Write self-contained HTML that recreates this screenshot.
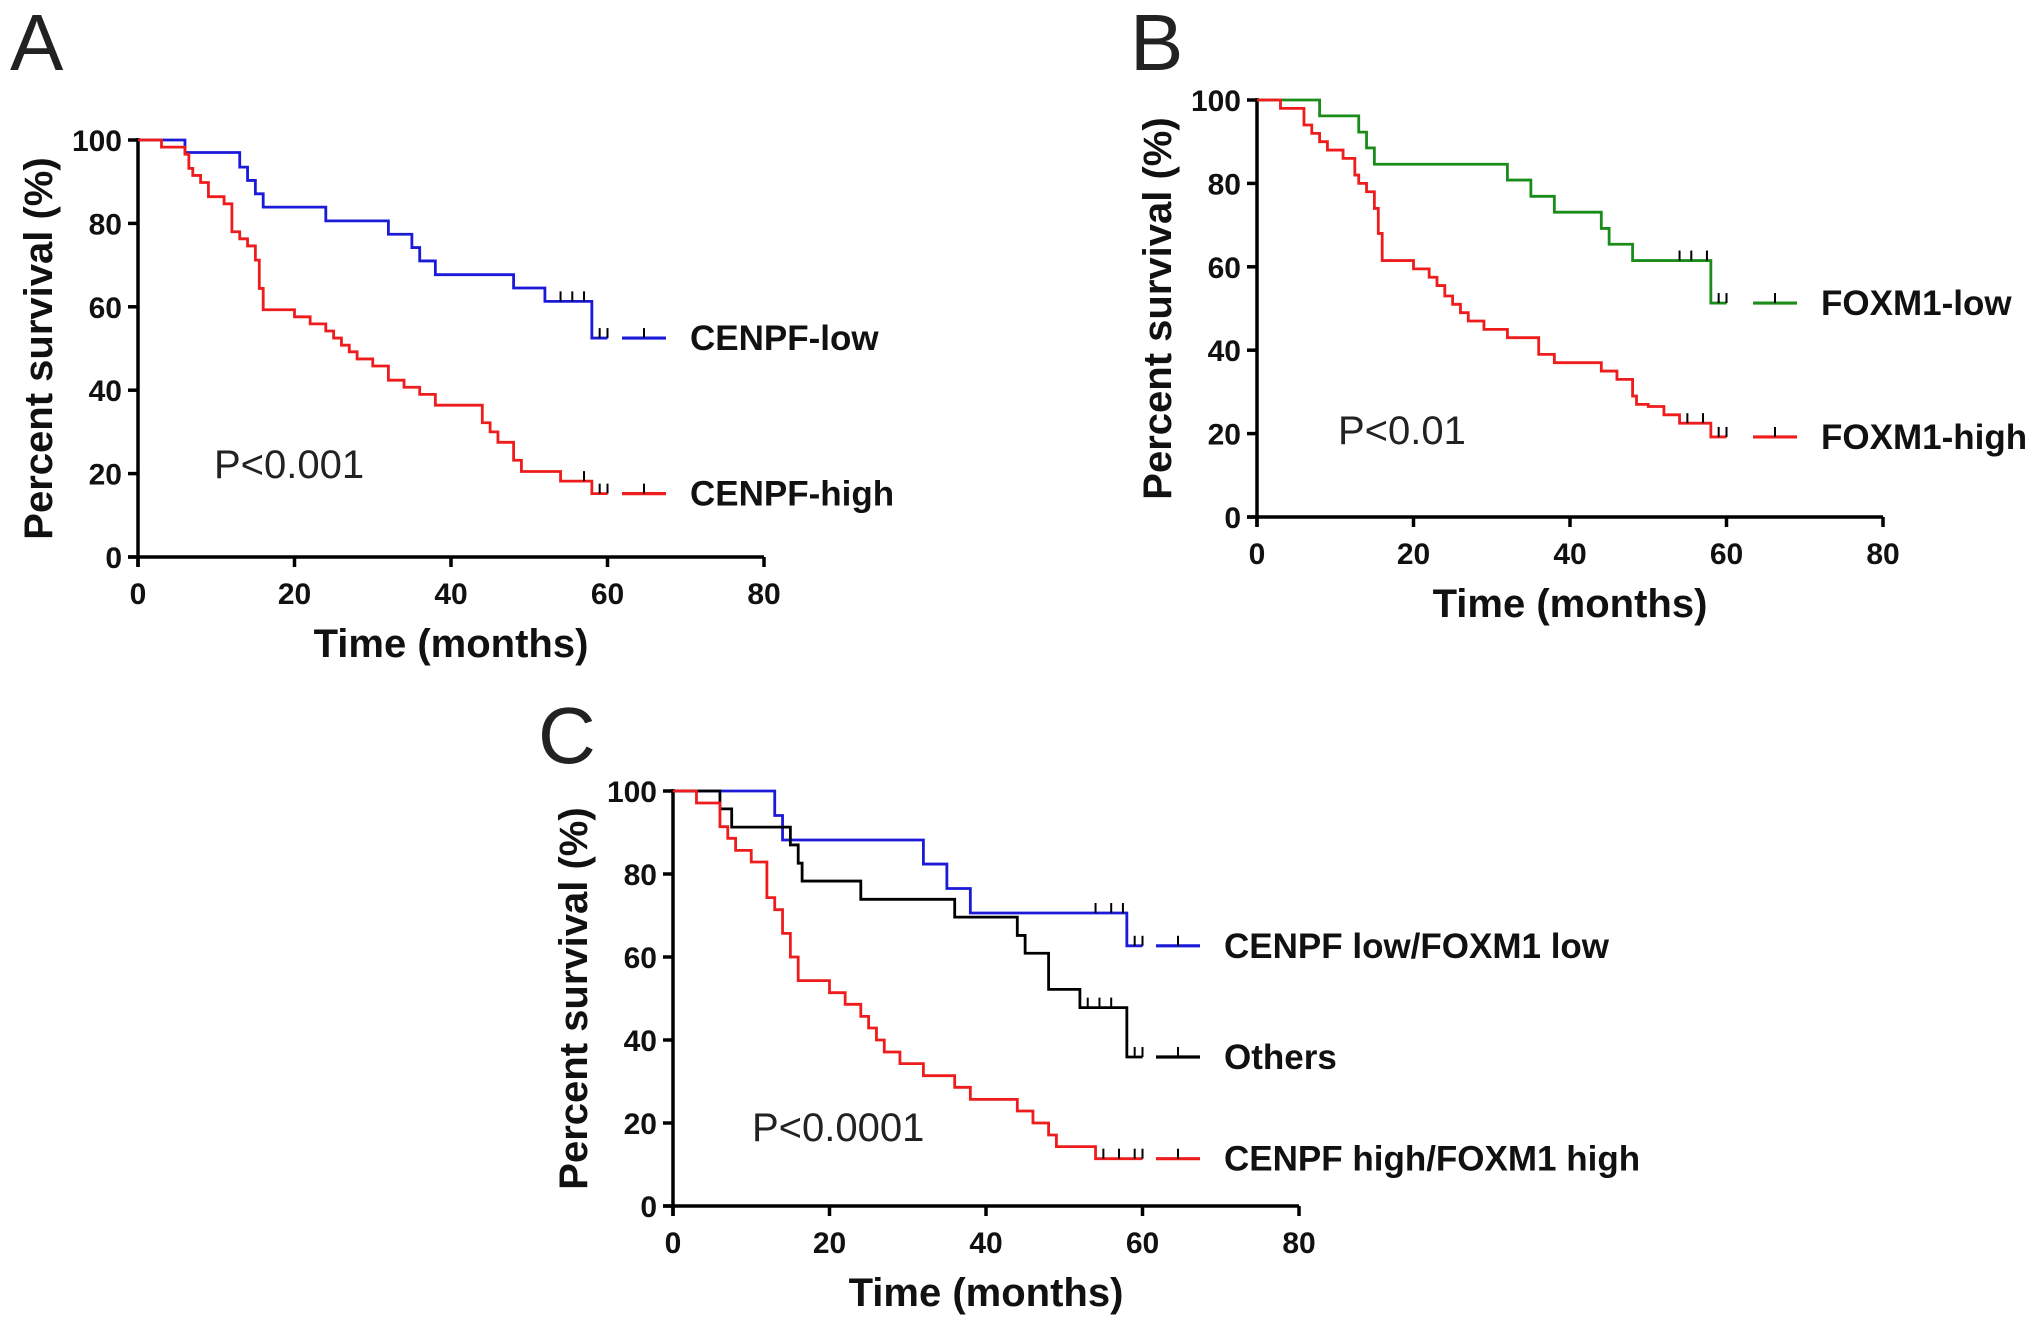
<!DOCTYPE html>
<html><head><meta charset="utf-8"><style>
html,body{margin:0;padding:0;background:#fff;}
svg{display:block;font-family:"Liberation Sans",Arial,sans-serif;}
</style></head><body>
<svg id="fig" width="2031" height="1324" viewBox="0 0 2031 1324"></svg>
<script>
// ---- data (months, percent survival) ----
const xTicks = [0,20,40,60,80];
const yTicks = [0,20,40,60,80,100];
// Panel A
const aLowT = [0,6,13,14,15,16,24,32,35,36,38,48,52,58,60];
const aLowS = [100,97,93.5,90.3,87.1,83.9,80.6,77.4,74.2,71,67.7,64.5,61.3,52.5,52.5];
const aLowCens = [54,55.5,57,59,60];
const aHighT = [0,3,6,6.5,7,8,9,11,12,13,14,15,15.5,16,20,22,24,25,26,27,28,30,32,34,36,38,44,45,46,48,49,54,58,60];
const aHighS = [100,98.3,96.6,93.2,91.5,89.8,86.4,84.7,78,76.3,74.6,71.2,64.4,59.3,57.6,55.9,54.2,52.5,50.8,49.2,47.5,45.8,42.4,40.7,39,36.4,32.2,30,27.5,23.2,20.5,18.2,15.2,15.2];
const aHighCens = [57,59,60];
// Panel B
const bLowT = [0,8,13,14,15,32,35,38,44,45,48,58,60];
const bLowS = [100,96.2,92.3,88.5,84.6,80.8,76.9,73.1,69.2,65.4,61.5,51.3,51.3];
const bLowCens = [54,55.5,57.5,59,60];
const bHighT = [0,3,6,7,8,9,11,12.5,13,14,15,15.5,16,20,22,23,24,25,26,27,29,32,36,38,44,46,48,48.5,50,52,54,58,60];
const bHighS = [100,98,94,92,90,88,86,82,80,78,74,68,61.5,59.5,57.5,55.5,53,51,49,47,45,43,39,37,35,33,29,27,26.5,24.5,22.5,19.2,19.2];
const bHighCens = [55,57,59,60];
// Panel C
const cLowT = [0,13,14,32,35,38,58,60];
const cLowS = [100,94.1,88.2,82.4,76.5,70.6,62.7,62.7];
const cLowCens = [54,56,57.5,59,60];
const cOthT = [0,6,7.5,15,16,16.5,24,36,44,45,48,52,58,60];
const cOthS = [100,95.7,91.3,87,82.6,78.3,73.9,69.6,65.2,60.9,52.2,47.8,35.9,35.9];
const cOthCens = [53,54.5,56,59,60];
const cHighT = [0,3,6,7,8,10,12,13,14,15,16,20,22,24,25,26,27,29,32,36,38,44,46,48,49,54,60];
const cHighS = [100,97.1,91.4,88.6,85.7,82.9,74.3,71.4,65.7,60,54.3,51.4,48.6,45.7,42.9,40,37.1,34.3,31.4,28.6,25.7,22.9,20,17.1,14.3,11.4,11.4];
const cHighCens = [55,57,59,60];

const NS = "http://www.w3.org/2000/svg";
const svg = document.getElementById('fig');
function mk(tag, attrs, parent){
  const e = document.createElementNS(NS, tag);
  for (const k in attrs) e.setAttribute(k, attrs[k]);
  (parent||svg).appendChild(e); return e;
}
function txt(s, attrs, parent){ const e = mk('text', attrs, parent); e.textContent = s; return e; }

function panel(p){
  const g = mk('g', {});
  
  
  const X = v => p.x0 + (v/80)*(p.x1-p.x0);
  const Y = v => p.y1 - (v/100)*(p.y1-p.y0);
  const lbl = txt(p.letter, {x:p.lx, y:p.ly, 'font-size':80, fill:'#222'}, g);
  
  
  const ax = mk('g', {stroke:'#000','stroke-width':3.5,fill:'none'}, g);
  
  
  mk('line', {x1:p.x0, y1:p.y0-2, x2:p.x0, y2:p.y1+10}, ax);
  mk('line', {x1:p.x0-10, y1:p.y1, x2:p.x1, y2:p.y1}, ax);
  xTicks.forEach(t => {
    mk('line', {x1:X(t), y1:p.y1, x2:X(t), y2:p.y1+10}, ax);
    const e = txt(String(t), {x:X(t), y:p.y1+47, 'font-size':30, 'font-weight':'bold', 'text-anchor':'middle', fill:'#111'}, g);
    
    
  });
  yTicks.forEach(t => {
    mk('line', {x1:p.x0-10, y1:Y(t), x2:p.x0, y2:Y(t)}, ax);
    const e = txt(String(t), {x:p.x0-16, y:Y(t)+11, 'font-size':30, 'font-weight':'bold', 'text-anchor':'end', fill:'#111'}, g);
    
    
  });
  const xt = txt('Time (months)', {x:(p.x0+p.x1)/2, y:p.y1+100, 'font-size':40, 'font-weight':'bold', 'text-anchor':'middle', fill:'#111'}, g);
  
  
  const cy = (p.y0+p.y1)/2;
  const yt = txt('Percent survival (%)', {x:0, y:0, 'font-size':40, 'font-weight':'bold', 'text-anchor':'middle', fill:'#111', transform:`translate(${p.x0-86},${cy}) rotate(-90)`}, g);
  
  
  const pv = txt(p.pval, {x:p.px, y:p.py, 'font-size':40, fill:'#222'}, g);
  
  
  p.series.forEach(s => {
    let d = `M${X(s.t[0])},${Y(s.s[0])}`;
    for (let i=1;i<s.t.length;i++){ d += ` H${X(s.t[i])} V${Y(s.s[i])}`; }
    const path = mk('path', {d, fill:'none', stroke:s.color, 'stroke-width':2.8}, g);
    
    
    const stepAt = t => { let v = s.s[0]; for (let i=0;i<s.t.length;i++){ if (s.t[i] <= t) v = s.s[i]; } return v; };
    s.cens.forEach(c => {
      const cl = mk('line', {x1:X(c), y1:Y(stepAt(c)), x2:X(c), y2:Y(stepAt(c))-10, stroke:'#000', 'stroke-width':2}, g);
      
      
    });
    const ly = Y(s.s[s.s.length-1]);
    const leg = mk('g', {}, g);
    
    
    mk('line', {x1:p.legX, y1:ly, x2:p.legX+44, y2:ly, stroke:s.color, 'stroke-width':3.2}, leg);
    mk('line', {x1:p.legX+22, y1:ly, x2:p.legX+22, y2:ly-10, stroke:'#000', 'stroke-width':2}, leg);
    txt(s.label, {x:p.legX+68, y:ly+12, 'font-size':35, 'font-weight':'bold', fill:'#111'}, leg);
  });
}

panel({id:'a', letter:'A', lx:10, ly:70, x0:138, x1:764, y0:140, y1:557, pval:'P<0.001', px:214, py:478, legX:622,
  series:[
    {name:'cenpf-low', label:'CENPF-low', color:'#1a1ad8', t:aLowT, s:aLowS, cens:aLowCens},
    {name:'cenpf-high', label:'CENPF-high', color:'#ee1c1c', t:aHighT, s:aHighS, cens:aHighCens}]});
panel({id:'b', letter:'B', lx:1130, ly:70, x0:1257, x1:1883, y0:100, y1:517, pval:'P<0.01', px:1338, py:444, legX:1753,
  series:[
    {name:'foxm1-low', label:'FOXM1-low', color:'#1a8c1a', t:bLowT, s:bLowS, cens:bLowCens},
    {name:'foxm1-high', label:'FOXM1-high', color:'#ee1c1c', t:bHighT, s:bHighS, cens:bHighCens}]});
panel({id:'c', letter:'C', lx:538, ly:763, x0:673, x1:1299, y0:791, y1:1206, pval:'P<0.0001', px:752, py:1141, legX:1156,
  series:[
    {name:'low-low', label:'CENPF low/FOXM1 low', color:'#1a1ad8', t:cLowT, s:cLowS, cens:cLowCens},
    {name:'others', label:'Others', color:'#000000', t:cOthT, s:cOthS, cens:cOthCens},
    {name:'high-high', label:'CENPF high/FOXM1 high', color:'#ee1c1c', t:cHighT, s:cHighS, cens:cHighCens}]});
</script>
</body></html>
